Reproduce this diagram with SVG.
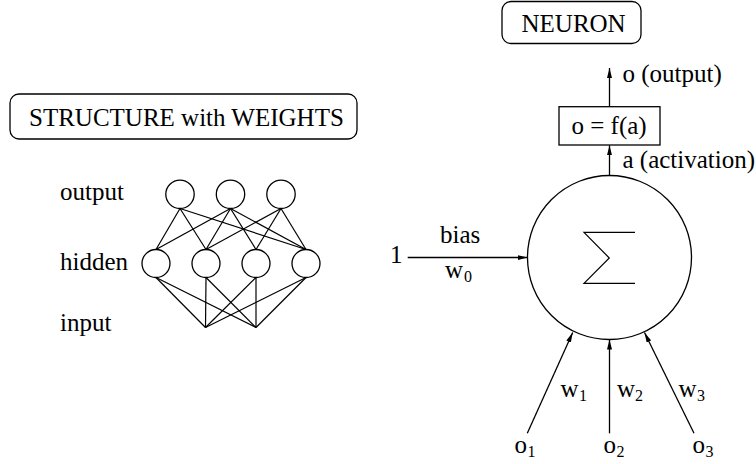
<svg xmlns="http://www.w3.org/2000/svg" width="756" height="464" viewBox="0 0 756 464">
  <defs>
    <marker id="head" viewBox="0 0 10 5" refX="10" refY="2.5" markerWidth="10" markerHeight="5" markerUnits="userSpaceOnUse" orient="auto">
      <path d="M0,0 L10,2.5 L0,5 z" fill="#000"/>
    </marker>
    <style>
      text { font-family: "Liberation Serif", "Times New Roman", Tinos, "DejaVu Serif", serif; font-size: 25px; fill: #000; }
      .sub { font-size: 16px; }
      .frame { fill: #fff; stroke: #000; stroke-width: 1.3; }
      .node { fill: #fff; stroke: #000; stroke-width: 1.3; }
      .link { stroke: #000; stroke-width: 1.2; fill: none; }
      .arrow { stroke: #000; stroke-width: 1.3; fill: none; marker-end: url(#head); }
    </style>
  </defs>
  <rect width="756" height="464" fill="#fff"/>

  <!-- left panel: layered network -->
  <g id="title-structure">
    <rect class="frame" x="10" y="94" width="347" height="45" rx="9"/>
    <text x="29" y="126">STRUCTURE with WEIGHTS</text>
  </g>

  <g id="layer-labels">
    <text x="60" y="200">output</text>
    <text x="60" y="270">hidden</text>
    <text x="60" y="331">input</text>
  </g>

  <g id="net-links">
    <!-- output to hidden -->
    <line class="link" x1="180" y1="208.5" x2="156" y2="249.5"/>
    <line class="link" x1="180" y1="208.5" x2="206" y2="249.5"/>
    <line class="link" x1="180" y1="208.5" x2="306" y2="249.5"/>
    <line class="link" x1="230.5" y1="208.5" x2="156" y2="249.5"/>
    <line class="link" x1="230.5" y1="208.5" x2="206" y2="249.5"/>
    <line class="link" x1="230.5" y1="208.5" x2="256" y2="249.5"/>
    <line class="link" x1="230.5" y1="208.5" x2="306" y2="249.5"/>
    <line class="link" x1="281" y1="208.5" x2="206" y2="249.5"/>
    <line class="link" x1="281" y1="208.5" x2="256" y2="249.5"/>
    <line class="link" x1="281" y1="208.5" x2="306" y2="249.5"/>
    <!-- hidden to input -->
    <line class="link" x1="156" y1="277.5" x2="205.5" y2="327.5"/>
    <line class="link" x1="156" y1="277.5" x2="256" y2="327.5"/>
    <line class="link" x1="206" y1="277.5" x2="205.5" y2="327.5"/>
    <line class="link" x1="206" y1="277.5" x2="256" y2="327.5"/>
    <line class="link" x1="256" y1="277.5" x2="205.5" y2="327.5"/>
    <line class="link" x1="256" y1="277.5" x2="256" y2="327.5"/>
    <line class="link" x1="306" y1="277.5" x2="205.5" y2="327.5"/>
    <line class="link" x1="306" y1="277.5" x2="256" y2="327.5"/>
  </g>

  <g id="output-units">
    <circle class="node" cx="180" cy="194.3" r="14.2"/>
    <circle class="node" cx="230.5" cy="194.3" r="14.2"/>
    <circle class="node" cx="281" cy="194.3" r="14.2"/>
  </g>
  <g id="hidden-units">
    <circle class="node" cx="156" cy="263.5" r="14"/>
    <circle class="node" cx="206" cy="263.5" r="14"/>
    <circle class="node" cx="256" cy="263.5" r="14"/>
    <circle class="node" cx="306" cy="263.5" r="14"/>
  </g>

  <!-- right panel: single neuron -->
  <g id="title-neuron">
    <rect class="frame" x="502" y="1.5" width="139" height="42" rx="9"/>
    <text x="521.5" y="32">NEURON</text>
  </g>

  <g id="neuron-connectors">
    <line class="arrow" x1="609.5" y1="106.7" x2="609.5" y2="68"/>
    <line class="arrow" x1="609.5" y1="175.5" x2="609.5" y2="145.3"/>
    <line class="arrow" x1="407.7" y1="257.5" x2="527.5" y2="257.5"/>
    <line class="arrow" x1="527.3" y1="433.3" x2="572.7" y2="332.5"/>
    <line class="arrow" x1="609.5" y1="433.3" x2="609.5" y2="339.5"/>
    <line class="arrow" x1="694" y1="433.3" x2="644.5" y2="332.5"/>
  </g>

  <g id="summation">
    <circle class="node" cx="609.5" cy="257.5" r="82"/>
    <polyline class="link" points="635,232.3 584,232.3 609.3,258 584,283.3 635,283.3"/>
  </g>

  <g id="activation-box">
    <rect class="frame" x="559" y="106.7" width="101" height="38.3"/>
    <text x="571.5" y="133.5">o = f(a)</text>
  </g>

  <g id="neuron-labels">
    <text x="622.5" y="81.5">o (output)</text>
    <text x="622.5" y="168.3">a (activation)</text>
    <text x="390" y="262.5">1</text>
    <text x="440" y="243.3">bias</text>
    <text x="445" y="278">w</text><text class="sub" x="464" y="282.3">0</text>
    <text x="560.5" y="396.7">w</text><text class="sub" x="579" y="400.7">1</text>
    <text x="617" y="396.7">w</text><text class="sub" x="635" y="400.7">2</text>
    <text x="678.5" y="396.7">w</text><text class="sub" x="697" y="400.7">3</text>
    <text x="514.5" y="453.3">o</text><text class="sub" x="527.5" y="457.3">1</text>
    <text x="603.5" y="453.3">o</text><text class="sub" x="616.5" y="457.3">2</text>
    <text x="692.5" y="453.3">o</text><text class="sub" x="705.5" y="457.3">3</text>
  </g>
</svg>
